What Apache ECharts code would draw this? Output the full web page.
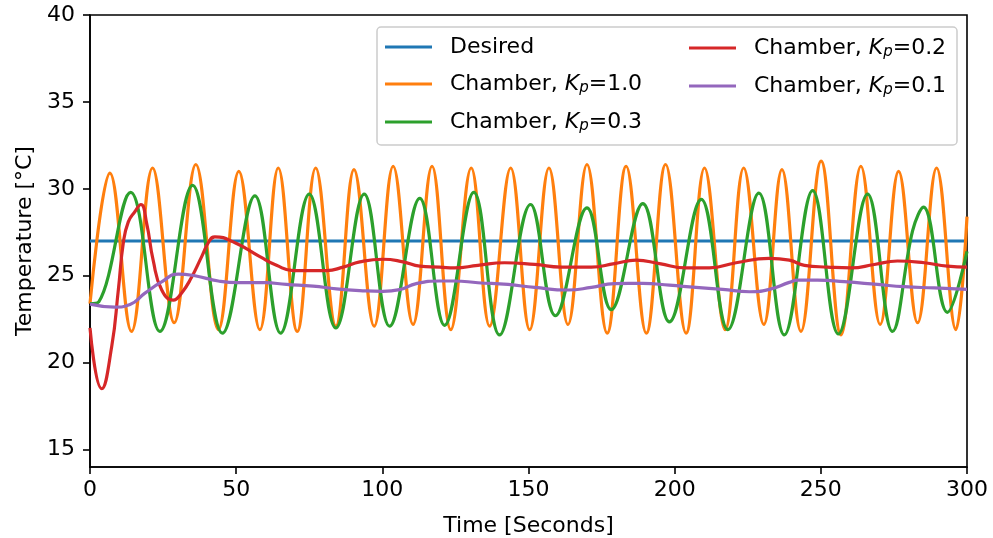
<!DOCTYPE html>
<html>
<head>
<meta charset="utf-8">
<script src="https://cdn.jsdelivr.net/npm/echarts@6/dist/echarts.min.js"></script>
<style>html,body{margin:0;padding:0;background:#fff;}#chart{width:993px;height:538px;}</style>
</head>
<body>
<div id="chart"></div>
<script>
// ---- data ----
const xTicks = [0, 50, 100, 150, 200, 250, 300];
const yTicks = [15, 20, 25, 30, 35, 40];

const desiredT = [0, 300];
const desiredV = [27, 27];

const kp10T = [0, 6.8, 14.2, 21.4, 28.8, 36.2, 43.9, 50.9, 58.1, 64.4, 70.9, 77.2, 84.1, 90.3, 97.2, 103.7, 110.5, 117.0, 123.4, 130.4, 136.7, 143.9, 150.4, 157.0, 163.5, 170.0, 176.9, 183.4, 190.3, 196.9, 203.9, 210.2, 217.3, 223.6, 230.5, 236.7, 243.2, 250.1, 256.9, 263.7, 270.3, 276.6, 283.1, 289.6, 296.2, 300];
const kp10V = [23.4, 30.9, 21.8, 31.2, 22.3, 31.4, 21.9, 31.0, 21.9, 31.2, 21.8, 31.2, 22.1, 31.1, 22.1, 31.3, 22.2, 31.3, 21.9, 31.2, 22.1, 31.2, 21.9, 31.2, 22.2, 31.4, 21.7, 31.3, 21.7, 31.4, 21.7, 31.2, 21.9, 31.2, 22.2, 31.1, 21.8, 31.6, 21.6, 31.3, 22.2, 31.0, 22.3, 31.2, 21.9, 28.4];

const kp03T = [0, 3.0, 13.9, 23.9, 35.1, 45.3, 56.4, 65.2, 75.0, 84.1, 93.8, 102.5, 112.8, 121.3, 131.3, 140.1, 150.7, 159.2, 170.0, 178.3, 189.1, 198.2, 209.1, 218.2, 228.8, 237.5, 247.2, 256.0, 266.0, 274.5, 281.4, 285.1, 293.3, 300];
const kp03V = [23.4, 23.5, 29.8, 21.8, 30.2, 21.7, 29.6, 21.7, 29.7, 22.0, 29.7, 22.1, 29.45, 22.15, 29.8, 21.6, 29.1, 22.7, 28.9, 23.05, 29.15, 22.35, 29.4, 21.9, 29.75, 21.6, 29.9, 21.65, 29.7, 21.8, 27.6, 28.95, 22.9, 26.4];

const kp02T = [0, 4.0, 7.4, 9.7, 11.4, 13.1, 15.4, 17.4, 19.4, 21.6, 24.5, 28.5, 31.3, 34.7, 38.2, 41.0, 42.7, 49.6, 58.1, 63.8, 69.5, 80.9, 86.6, 92.3, 100.2, 107.1, 112.8, 119.6, 124.7, 132.7, 141.8, 152.1, 161.2, 171.5, 179.4, 186.8, 194.8, 203.9, 211.9, 221.0, 232.4, 239.2, 244.4, 252.3, 260.3, 268.3, 276.2, 285.4, 293.3, 300];
const kp02V = [22.0, 18.5, 20.9, 24.2, 26.9, 28.1, 28.7, 29.1, 28.0, 25.9, 24.2, 23.6, 24.0, 24.9, 26.1, 27.05, 27.24, 26.9, 26.1, 25.6, 25.3, 25.3, 25.5, 25.8, 25.95, 25.8, 25.55, 25.5, 25.45, 25.6, 25.75, 25.65, 25.5, 25.5, 25.7, 25.9, 25.7, 25.45, 25.45, 25.75, 26.0, 25.9, 25.6, 25.5, 25.45, 25.65, 25.85, 25.75, 25.55, 25.5];

const kp01T = [0, 8.5, 13.7, 18.8, 24.5, 30.2, 35.9, 43.9, 50.7, 59.8, 67.2, 76.3, 84.3, 92.3, 100.2, 105.9, 111.6, 119.6, 124.7, 132.7, 143.0, 152.1, 163.5, 171.5, 179.4, 189.1, 198.2, 207.3, 216.4, 225.6, 232.4, 239.2, 242.1, 248.9, 258.0, 269.4, 278.5, 288.8, 300];
const kp01V = [23.37, 23.2, 23.35, 24.0, 24.65, 25.1, 25.0, 24.7, 24.6, 24.6, 24.5, 24.4, 24.25, 24.15, 24.1, 24.2, 24.55, 24.7, 24.7, 24.6, 24.5, 24.33, 24.18, 24.33, 24.55, 24.56, 24.46, 24.33, 24.22, 24.08, 24.22, 24.62, 24.75, 24.75, 24.66, 24.5, 24.37, 24.3, 24.22];

const names = ['Desired', 'Chamber, Kp=1.0', 'Chamber, Kp=0.3', 'Chamber, Kp=0.2', 'Chamber, Kp=0.1'];
const colors = ['#1f77b4', '#ff7f0e', '#2ca02c', '#d62728', '#9467bd'];

// ---- chart ----
const pair = (t, v) => t.map((x, i) => [x, v[i]]);
const seriesData = [pair(desiredT, desiredV), pair(kp10T, kp10V), pair(kp03T, kp03V), pair(kp02T, kp02V), pair(kp01T, kp01V)];
const smooths = [false, 0.4, 0.4, 0.5, 0.5];

const FONT = 'DejaVu Sans';
const FS = 22;
const chart = echarts.init(document.getElementById('chart'), null, {renderer: 'canvas'});

const richStyles = {
  t: {fontFamily: FONT, fontSize: FS, color: '#000', lineHeight: 24},
  f: {fontFamily: FONT, fontSize: FS, color: '#000', lineHeight: 24, padding: [0, 0, 0, 13]},
  k: {fontFamily: FONT, fontSize: FS, color: '#000', fontStyle: 'italic', lineHeight: 24},
  p: {fontFamily: FONT, fontSize: 15, color: '#000', fontStyle: 'italic', lineHeight: 14, padding: [9, 0, 0, 0]}
};
function legendFmt(name) {
  const m = name.match(/^(.*)Kp(=.*)$/);
  if (!m) return '{f|' + name + '}';
  return '{f|' + m[1] + '}{k|K}{p|p}{t|' + m[2] + '}';
}
const legendBase = {
  orient: 'vertical', padding: 0, itemGap: 14, itemWidth: 47, itemHeight: 3,
  icon: 'rect', selectedMode: false, formatter: legendFmt, z: 5,
  textStyle: {fontFamily: FONT, fontSize: FS, color: '#000', rich: richStyles}
};

chart.setOption({
  animation: false,
  backgroundColor: '#fff',
  color: colors,
  grid: {left: 90, right: 26, top: 15, bottom: 71, show: true, borderColor: '#000', borderWidth: 1.6,
         backgroundColor: 'transparent', containLabel: false, outerBoundsMode: 'none'},
  xAxis: {
    type: 'value', min: 0, max: 300, interval: 50,
    name: 'Time [Seconds]', nameLocation: 'middle', nameGap: 48,
    nameTextStyle: {fontFamily: FONT, fontSize: FS, color: '#000'},
    axisLine: {show: true, lineStyle: {color: '#000', width: 1.6}},
    axisTick: {show: true, length: 7, lineStyle: {color: '#000', width: 1.6}},
    axisLabel: {fontFamily: FONT, fontSize: FS, color: '#000', margin: 12, customValues: xTicks},
    splitLine: {show: false}
  },
  yAxis: {
    type: 'value', min: 14, max: 40,
    name: 'Temperature [°C]', nameLocation: 'middle', nameGap: 48,
    nameTextStyle: {fontFamily: FONT, fontSize: FS, color: '#000'},
    axisLine: {show: true, lineStyle: {color: '#000', width: 1.6}},
    axisTick: {show: true, length: 7, lineStyle: {color: '#000', width: 1.6}, customValues: yTicks},
    axisLabel: {fontFamily: FONT, fontSize: FS, color: '#000', margin: 15, customValues: yTicks},
    splitLine: {show: false}
  },
  graphic: [{
    type: 'rect', z: 4, silent: true,
    shape: {x: 377, y: 27, width: 580, height: 118, r: 4},
    style: {fill: 'rgba(255,255,255,0.8)', stroke: '#cccccc', lineWidth: 1.5}
  }],
  legend: [
    Object.assign({}, legendBase, {left: 385, top: 36, data: names.slice(0, 3)}),
    Object.assign({}, legendBase, {left: 689, top: 36, data: names.slice(3)})
  ],
  series: names.map((n, i) => ({
    name: n, type: 'line', data: seriesData[i], smooth: smooths[i],
    showSymbol: false, symbol: 'none', z: 2 + i * 0.01,
    itemStyle: {color: colors[i]},
    lineStyle: {color: colors[i], width: 3.2}
  }))
});
</script>
</body>
</html>
